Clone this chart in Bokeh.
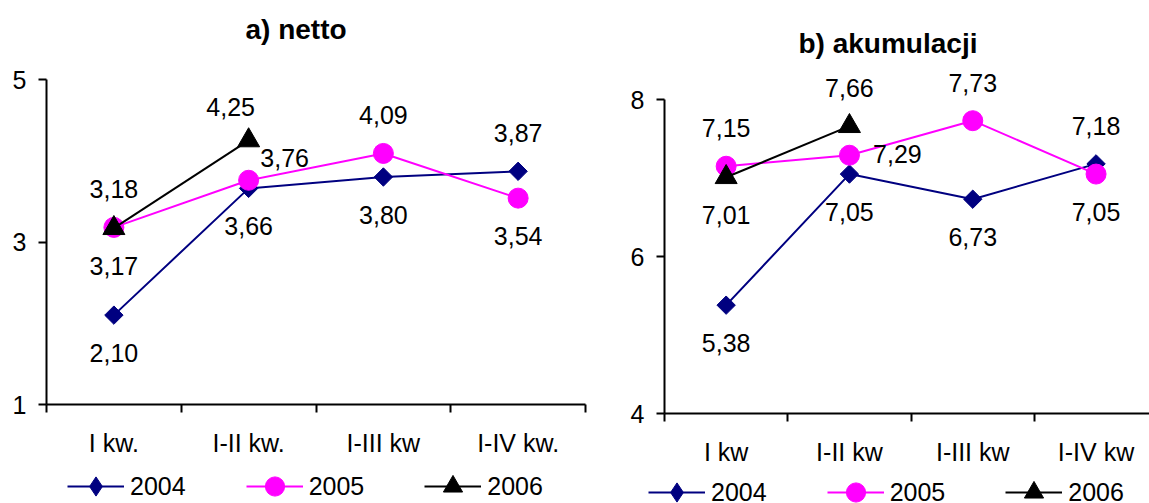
from bokeh.plotting import figure
from bokeh.models import (Range1d, FixedTicker, ColumnDataSource, LabelSet, Legend,
                          LegendItem, Label, Spacer)
from bokeh.core.properties import value
from bokeh.layouts import row, column
from bokeh.embed import file_html
from bokeh.resources import INLINE
import numpy as np

# ---------------- data ----------------
cats_a = ["I kw.", "I-II kw.", "I-III kw", "I-IV kw."]
netto_2004 = [2.10, 3.66, 3.80, 3.87]
netto_2005 = [3.18, 3.76, 4.09, 3.54]
netto_2006 = [3.17, 4.25]

cats_b = ["I kw", "I-II kw", "I-III kw", "I-IV kw"]
akum_2004 = [5.38, 7.05, 6.73, 7.18]
akum_2005 = [7.15, 7.29, 7.73, 7.05]
akum_2006 = [7.01, 7.66]

years = ["2004", "2005", "2006"]
yticks_a = [1, 3, 5]
yticks_b = [4, 6, 8]

# label placement (style)
place_a = {"2004": ["below", "below", "below", "above"],
           "2005": ["above", "upright", "above", "below"],
           "2006": ["below", "above_l"]}
place_b = {"2004": ["below", "below", "below", "above"],
           "2005": ["above", "right", "above", "below"],
           "2006": ["below", "above"]}

OFFS = {"above": (0, 38), "below": (0, -38), "right": (48, 1),
        "upright": (36, 22), "above_l": (-18, 33)}

FONT = "Liberation Sans"
COLORS = {"2004": "#000080", "2005": "#FF00FF", "2006": "#000000"}
MARK = {"2004": dict(marker="square", size=13, angle=np.pi / 4),
        "2005": dict(marker="circle", size=20, angle=0),
        "2006": dict(marker="triangle", size=22, angle=0)}
LEGEND_MARK = {"2004": "diamond", "2005": "circle", "2006": "triangle"}

H = 461            # chart figure height
FB = 404           # frame bottom inside each chart figure
SHIFT_B = 9        # right panel sits 9 px lower on the page
TOTAL_W = 1149
LH = 503 - (H + SHIFT_B)   # legend strip height


def fmt(v):
    return f"{v:.2f}".replace(".", ",")


def make_panel(title, cats, series, places, ylo, yhi, ytop_px, yticks,
               width, mb_left, mb_right, x_end, title_dx, title_base_px):
    n = len(cats)
    ppu = (FB - ytop_px) / (yhi - ylo)
    r_top = yhi + ytop_px / ppu           # frame starts at the canvas top
    p = figure(width=width, height=H, output_backend="svg",
               toolbar_location=None, x_range=Range1d(0, x_end),
               y_range=Range1d(ylo, r_top), min_border_left=mb_left,
               min_border_right=mb_right, min_border_top=0,
               min_border_bottom=H - FB)
    p.title = None
    p.outline_line_color = None
    p.grid.visible = False
    p.background_fill_color = "white"
    p.border_fill_color = "white"

    xa = p.xaxis[0]
    xa.ticker = FixedTicker(ticks=[i + 0.5 for i in range(n)],
                            minor_ticks=list(range(n + 1)))
    xa.major_label_overrides = {i + 0.5: c for i, c in enumerate(cats)}
    xa.major_tick_line_color = None
    xa.major_tick_out = 0
    xa.major_tick_in = 0
    xa.minor_tick_in = 0
    xa.minor_tick_out = 8
    xa.minor_tick_line_color = "black"
    xa.minor_tick_line_width = 2
    xa.axis_line_width = 2
    xa.major_label_standoff = 16
    xa.major_label_text_font = FONT
    xa.major_label_text_font_size = "25px"
    xa.major_label_text_color = "black"

    ya = p.yaxis[0]
    ya.ticker = FixedTicker(ticks=yticks, minor_ticks=[])
    ya.bounds = (ylo, yhi)
    ya.major_tick_in = 0
    ya.major_tick_out = 8
    ya.major_tick_line_width = 2
    ya.axis_line_width = 2
    ya.major_label_standoff = 12
    ya.major_label_text_font = FONT
    ya.major_label_text_font_size = "25px"
    ya.major_label_text_color = "black"

    tx = title_dx / ((width - mb_left - mb_right) / x_end)
    ty = yhi + (ytop_px - title_base_px) / ppu
    p.add_layout(Label(x=tx, y=ty, text=title, text_align="left",
                       text_baseline="alphabetic", text_font=FONT,
                       text_font_size="28px", text_font_style="bold",
                       text_color="black"))

    for yname in years:
        vals = series[yname]
        xs = [i + 0.5 for i in range(len(vals))]
        src = ColumnDataSource(dict(
            x=xs, y=vals, t=[fmt(v) for v in vals],
            dx=[OFFS[k][0] for k in places[yname]],
            dy=[OFFS[k][1] for k in places[yname]]))
        c = COLORS[yname]
        p.line("x", "y", source=src, line_color=c, line_width=2)
        m = MARK[yname]
        p.scatter("x", "y", source=src, marker=m["marker"], size=m["size"],
                  angle=m["angle"], fill_color=c, line_color=c)
        p.add_layout(LabelSet(x="x", y="y", text="t", source=src, x_offset="dx",
                              y_offset="dy", text_align="center",
                              text_baseline="middle", text_font=value(FONT),
                              text_font_size=value("25px"), text_color="black"))
    return p


W1 = 620
pa = make_panel("a) netto", cats_a,
                {"2004": netto_2004, "2005": netto_2005, "2006": netto_2006},
                place_a, 1, 5, 79, yticks_a, width=W1,
                mb_left=46, mb_right=W1 - 585, x_end=4,
                title_dx=245 - 46, title_base_px=29)

pb = make_panel("b) akumulacji", cats_b,
                {"2004": akum_2004, "2005": akum_2005, "2006": akum_2006},
                place_b, 4, 8, 99 - SHIFT_B, yticks_b, width=TOTAL_W - W1,
                mb_left=664 - W1, mb_right=0, x_end=(1149 - 664) / 123.3,
                title_dx=798 - 664, title_base_px=43 - SHIFT_B)

# ---- legend strip (one legend under each panel) ----
lf = figure(width=TOTAL_W, height=LH, output_backend="svg", toolbar_location=None,
            x_range=Range1d(0, 4), y_range=Range1d(-2, -1),
            x_axis_location=None, y_axis_location=None,
            min_border=0)
lf.title = None
lf.outline_line_color = None
lf.grid.visible = False
lf.background_fill_color = "white"
lf.border_fill_color = "white"
items = []
series_a = {"2004": netto_2004, "2005": netto_2005, "2006": netto_2006}
for yname in years:
    c = COLORS[yname]
    vals = series_a[yname]
    # the series data lie outside this strip's value range, so only the legend shows
    src = ColumnDataSource(dict(x=[i + 0.5 for i in range(len(vals))], y=vals))
    ln = lf.line("x", "y", source=src, line_color=c, line_width=2)
    sc = lf.scatter("x", "y", source=src, marker=LEGEND_MARK[yname],
                    fill_color=c, line_color=c)
    items.append(LegendItem(label=yname, renderers=[ln, sc]))

for loc in [(67, -7), (648, -13)]:
    lf.add_layout(Legend(items=items, location=loc, orientation="horizontal",
                         glyph_width=57, glyph_height=48, label_height=24,
                         label_standoff=6, spacing=60, padding=0, margin=0,
                         border_line_alpha=0, background_fill_alpha=0,
                         label_text_font=FONT, label_text_font_size="25px",
                         label_text_color="black"),
                  "center")

layout = column(row(pa, column(Spacer(height=SHIFT_B), pb)), lf)
open("out.html", "w").write(file_html(layout, INLINE))
